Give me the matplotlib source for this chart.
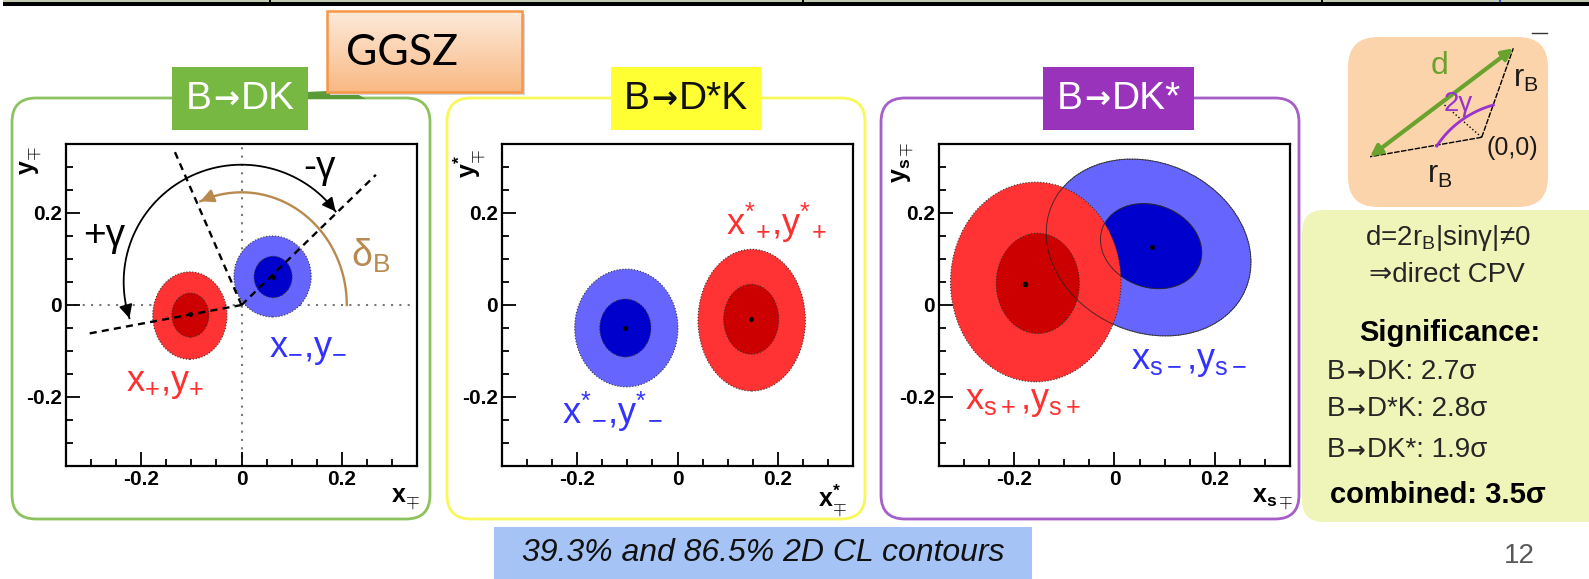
import numpy as np
import matplotlib
matplotlib.use("Agg")
import matplotlib.pyplot as plt
from matplotlib.patches import Ellipse, FancyBboxPatch, Rectangle, Polygon
from matplotlib.ticker import MultipleLocator, FixedLocator
from matplotlib.offsetbox import TextArea, HPacker, AnnotationBbox

plt.rcParams['font.family'] = ['Liberation Sans', 'DejaVu Sans']
plt.rcParams['mathtext.fontset'] = 'custom'
plt.rcParams['mathtext.rm'] = 'Liberation Sans'
plt.rcParams['mathtext.it'] = 'Liberation Sans:italic'
plt.rcParams['mathtext.bf'] = 'Liberation Sans:bold'
plt.rcParams['mathtext.sf'] = 'Liberation Sans'
plt.rcParams['axes.unicode_minus'] = False

# ---------------- data ----------------
panel_titles = ["B→DK", "B→D*K", "B→DK*"]
tick_values = [-0.2, 0.0, 0.2]
tick_labels = ["-0.2", "0", "0.2"]
axis_range = [-0.35, 0.35]

# best-fit points (x, y)
dk_plus_best = (-0.102, -0.020)
dk_minus_best = (0.062, 0.061)
dstk_plus_best = (0.147, -0.031)
dstk_minus_best = (-0.104, -0.050)
dks_plus_best = (-0.179, 0.045)
dks_minus_best = (0.075, 0.127)

# contours: (cx, cy, half-width, half-height, angle) for 86.5% and 39.3% CL
dk_plus_865 = (-0.103, -0.023, 0.074, 0.095, 0)
dk_plus_393 = (-0.102, -0.022, 0.037, 0.048, 0)
dk_minus_865 = (0.062, 0.062, 0.077, 0.088, 0)
dk_minus_393 = (0.063, 0.061, 0.038, 0.045, 0)
dstk_plus_865 = (0.148, -0.033, 0.107, 0.154, 0)
dstk_plus_393 = (0.147, -0.031, 0.055, 0.076, 0)
dstk_minus_865 = (-0.102, -0.050, 0.103, 0.128, 0)
dstk_minus_393 = (-0.104, -0.050, 0.051, 0.063, 0)
dks_plus_865 = (-0.157, 0.050, 0.170, 0.217, 0)
dks_plus_393 = (-0.153, 0.047, 0.083, 0.109, 0)
dks_minus_865 = (0.068, 0.125, 0.215, 0.180, -35)
dks_minus_393 = (0.073, 0.128, 0.105, 0.088, -30)

# B->DK geometry sketch: ends of the dashed rays from origin
ray_delta = (-0.133, 0.333)
ray_minus = (0.268, 0.283)
ray_plus = (-0.309, -0.063)
# elliptical arcs: (cx, cy, a, b, t_start, t_end) in degrees
gamma_arc = (0.0, 0.05, 0.235, 0.255, 37, 198)
delta_arc = (0.0, 0.0, 0.21, 0.245, 0, 113)

# r_B diagram vectors (schematic)
rb_up = (0.316, 0.890)
rb_low = (-1.117, -0.194)

significance_labels = ["B→DK: 2.7σ", "B→D*K: 2.8σ", "B→DK*: 1.9σ"]
combined_label = "combined: 3.5σ"

# ---------------- figure ----------------
W, H = 1589, 579
fig = plt.figure(figsize=(W / 100, H / 100), dpi=100)
bg = fig.add_axes([0, 0, 1, 1])
bg.set_zorder(0)
bg.axis('off')


def frect(x0, y0, x1, y1):
    return [x0 / W, 1 - y1 / H, (x1 - x0) / W, (y1 - y0) / H]


def arrow_text(x, y, s, fs, color, weight='normal', align=(0.5, 0.5), zorder=4):
    parts = s.split('→')
    children = []
    for k, p in enumerate(parts):
        if k > 0:
            children.append(TextArea('→', textprops=dict(fontsize=fs * 0.8, color=color,
                                                          family='DejaVu Sans', fontweight='bold')))
        children.append(TextArea(p, textprops=dict(fontsize=fs, color=color, fontweight=weight)))
    pk = HPacker(children=children, pad=0, sep=1, align='baseline')
    ab = AnnotationBbox(pk, (x, y), xycoords='data', frameon=False, box_alignment=align,
                        pad=0, zorder=zorder, annotation_clip=False)
    bg.add_artist(ab)


# top table border
bg.add_patch(Rectangle((3, 0), 1590, 1.6, fc='#c3cab2', ec='none'))
bg.add_patch(Rectangle((3, 1.6), 1590, 4.2, fc='black', ec='none'))
for xd in (270, 803, 1322):
    bg.add_patch(Rectangle((xd - 1, 0), 2.2, 6, fc='black', ec='none'))
bg.add_patch(Rectangle((1499, 0), 2, 2, fc='#3355dd', ec='none'))

RED_OUT, RED_IN = '#ff3333', '#cc0000'
BLUE_OUT, BLUE_IN = '#6666ff', '#0000cc'
RED_TXT, BLUE_TXT = '#ff3030', '#3333ff'

panel_left = [12, 447, 881]
panel_color = ['#8cc35e', '#f8f85a', '#a65ec8']
title_box = [(172, 308, '#77b843', 'white'), (611, 761, '#ffff33', '#111111'),
             (1043, 1194, '#9933bb', 'white')]
axes_left = [66, 502, 939]

for i in range(3):
    x0 = panel_left[i]
    bg.add_patch(FancyBboxPatch((x0, 98), 418, 421, boxstyle='round,pad=0,rounding_size=24',
                                fc='white', ec=panel_color[i], lw=2.0, zorder=1))
for i in range(3):
    tx0, tx1, tc, ttc = title_box[i]
    bg.add_patch(Rectangle((tx0, 67), tx1 - tx0, 63, fc=tc, ec='none', zorder=3))
    arrow_text((tx0 + tx1) / 2, 99, panel_titles[i], 28, ttc, zorder=4)

# green tab partly hidden behind GGSZ box
bg.add_patch(Polygon([(306, 99), (306, 92), (350, 90), (366, 99)], closed=True,
                     fc='#5a9a38', ec='none', zorder=2))

# GGSZ box with gradient
gx0, gx1, gy0, gy1 = 327, 522, 11, 92
bg.add_patch(Rectangle((gx0 + 3, gy0 + 3), gx1 - gx0, gy1 - gy0, fc='#d5d5d5', ec='none', zorder=4))
grad = np.linspace(0, 1, 64)[:, None, None]
c_top = np.array([253, 234, 218]) / 255
c_bot = np.array([249, 185, 132]) / 255
img = c_top * (1 - grad) + c_bot * grad
bg.imshow(img, extent=(gx0, gx1, gy1, gy0), origin='upper', aspect='auto', zorder=5)
bg.add_patch(Rectangle((gx0, gy0), gx1 - gx0, gy1 - gy0, fc='none', ec='#f79646', lw=1.8, zorder=6))
bg.text(346, 53, "GGSZ", fontsize=31, family=['Lato', 'DejaVu Sans'], color='black',
        ha='left', va='center', zorder=7)

# axis labels
ylabels = [r"$\mathbf{y}_{\mathbf{\mp}}$", r"$\mathbf{y}^{\mathbf{*}}_{\mathbf{\mp}}$",
           r"$\mathbf{y}_{\mathbf{s\mp}}$"]
xlabels = [r"$\mathbf{x}_{\mathbf{\mp}}$", r"$\mathbf{x}^{\mathbf{*}}_{\mathbf{\mp}}$",
           r"$\mathbf{x}_{\mathbf{s\mp}}$"]
ylab_pos = [(32, 161), (470, 164), (904, 162)]
xlab_pos = [(405, 500), (832, 501), (1273, 500)]
for i in range(3):
    bg.text(*ylab_pos[i], ylabels[i], fontsize=18, rotation=90, ha='center', va='center', zorder=4)
    bg.text(*xlab_pos[i], xlabels[i], fontsize=18, ha='center', va='center', zorder=4)

# ---------------- plot axes ----------------
axes = []
for i in range(3):
    ax = fig.add_axes(frect(axes_left[i], 144, axes_left[i] + 351, 466))
    ax.set_zorder(2)
    ax.set_xlim(axis_range)
    ax.set_ylim(axis_range)
    ax.xaxis.set_major_locator(FixedLocator(tick_values))
    ax.yaxis.set_major_locator(FixedLocator(tick_values))
    ax.set_xticklabels(tick_labels)
    ax.set_yticklabels(tick_labels)
    ax.xaxis.set_minor_locator(MultipleLocator(0.05))
    ax.yaxis.set_minor_locator(MultipleLocator(0.05))
    ax.tick_params(which='both', direction='in', top=False, right=False, width=1.3, labelsize=15)
    ax.tick_params(which='major', length=10, pad=3)
    ax.tick_params(which='minor', length=5)
    for lab in ax.get_xticklabels() + ax.get_yticklabels():
        lab.set_fontweight('bold')
    for s in ax.spines.values():
        s.set_linewidth(1.6)
    axes.append(ax)


def add_ell(ax, e, fc, z, ec='none', lw=0.0, ls='-', alpha=1.0):
    cx, cy, hw, hh, ang = e
    ax.add_patch(Ellipse((cx, cy), 2 * hw, 2 * hh, angle=ang, fc=fc, ec=ec, lw=lw, ls=ls,
                         zorder=z, alpha=alpha))


def contours(ax, outer, inner, c_out, c_in, z, edge_ls=':'):
    add_ell(ax, outer, c_out, z)
    add_ell(ax, inner, c_in, z + 0.2)
    add_ell(ax, outer, 'none', z + 0.3, ec='#333333', lw=0.8, ls=edge_ls)
    add_ell(ax, inner, 'none', z + 0.3, ec='#333333', lw=0.8, ls=edge_ls)


# Panel 1: B->DK
ax = axes[0]
ax.axhline(0, color='#777777', lw=1.5, ls=(0, (1, 3)), zorder=1)
ax.axvline(0, color='#777777', lw=1.5, ls=(0, (1, 3)), zorder=1)
contours(ax, dk_plus_865, dk_plus_393, RED_OUT, RED_IN, 2)
contours(ax, dk_minus_865, dk_minus_393, BLUE_OUT, BLUE_IN, 2)
for end in (ray_delta, ray_minus, ray_plus):
    ax.plot([0, end[0]], [0, end[1]], color='black', lw=1.7, dashes=(3, 2.2), zorder=5)
for (cx, cy, a, b, t0, t1), col, lw, both in ((gamma_arc, 'black', 1.3, True),
                                              (delta_arc, '#b98a4f', 1.7, False)):
    t = np.radians(np.linspace(t0, t1, 200))
    xs, ys = cx + a * np.cos(t), cy + b * np.sin(t)
    ax.plot(xs, ys, color=col, lw=lw, zorder=6)
    ax.annotate('', xy=(xs[-1], ys[-1]), xytext=(xs[-6], ys[-6]),
                arrowprops=dict(arrowstyle='-|>', color=col, lw=lw, mutation_scale=20,
                                shrinkA=0, shrinkB=0), zorder=6)
    if both:
        ax.annotate('', xy=(xs[0], ys[0]), xytext=(xs[5], ys[5]),
                    arrowprops=dict(arrowstyle='-|>', color=col, lw=lw, mutation_scale=20,
                                    shrinkA=0, shrinkB=0), zorder=6)
ax.plot(*dk_plus_best, 'o', color='black', ms=2.5, zorder=7)
ax.plot(*dk_minus_best, 'o', color='black', ms=2.5, zorder=7)
ax.text(0.156, 0.297, "-γ", fontsize=28, color='black', ha='center', va='center', zorder=8)
ax.text(-0.274, 0.150, "+γ", fontsize=28, color='black', ha='center', va='center', zorder=8)
ax.text(0.258, 0.107, r"δ$_\mathregular{B}$", fontsize=27, color='#b98a4f', ha='center', va='center', zorder=8)
ax.text(0.132, -0.097, r"$\mathregular{x_{-}{,}y_{-}}$", fontsize=26, color=BLUE_TXT, ha='center', va='center', zorder=8)
ax.text(-0.152, -0.170, r"$\mathregular{x_{+}{,}y_{+}}$", fontsize=26, color=RED_TXT, ha='center', va='center', zorder=8)

# Panel 2: B->D*K
ax = axes[1]
contours(ax, dstk_minus_865, dstk_minus_393, BLUE_OUT, BLUE_IN, 2)
contours(ax, dstk_plus_865, dstk_plus_393, RED_OUT, RED_IN, 2)
ax.plot(*dstk_plus_best, 'o', color='black', ms=2.5, zorder=7)
ax.plot(*dstk_minus_best, 'o', color='black', ms=2.5, zorder=7)
ax.text(0.197, 0.178, r"$\mathregular{x^{*}{}_{+}{,}y^{*}{}_{+}}$", fontsize=26, color=RED_TXT, ha='center', va='center')
ax.text(-0.130, -0.233, r"$\mathregular{x^{*}{}_{-}{,}y^{*}{}_{-}}$", fontsize=26, color=BLUE_TXT, ha='center', va='center')

# Panel 3: B->DK*
ax = axes[2]
add_ell(ax, dks_minus_865, BLUE_OUT, 2)
add_ell(ax, dks_minus_393, BLUE_IN, 2.2)
add_ell(ax, dks_minus_865, 'none', 2.3, ec='#333333', lw=0.7, ls=':')
add_ell(ax, dks_minus_393, 'none', 2.3, ec='#333333', lw=0.7, ls=':')
contours(ax, dks_plus_865, dks_plus_393, RED_OUT, RED_IN, 3)
add_ell(ax, dks_minus_865, 'none', 4, ec='#222222', lw=0.7, alpha=0.8)
add_ell(ax, dks_minus_393, 'none', 4, ec='#222222', lw=0.7, alpha=0.8)
ax.plot(*dks_plus_best, 'o', color='black', ms=3, zorder=7)
ax.plot(*dks_minus_best, 'o', color='black', ms=2.5, zorder=7)
ax.text(-0.183, -0.210, r"$\mathregular{x_{s+}{,}y_{s+}}$", fontsize=26, color=RED_TXT, ha='center', va='center')
ax.text(0.148, -0.123, r"$\mathregular{x_{s-}{,}y_{s-}}$", fontsize=26, color=BLUE_TXT, ha='center', va='center')

# ---------------- right side ----------------
bg.add_patch(FancyBboxPatch((1348, 37), 200, 170, boxstyle='round,pad=0,rounding_size=30',
                            fc='#fcd4ab', ec='none', zorder=1))
bg.add_patch(FancyBboxPatch((1302, 210), 330, 312, boxstyle='round,pad=0,rounding_size=22',
                            fc='#eff4b8', ec='none', zorder=1))
bg.plot([1532, 1547], [33, 33], color='#333333', lw=1)

axd = fig.add_axes(frect(1348, 37, 1548, 207))
axd.set_zorder(3)
axd.axis('off')
axd.set_xlim(-1.337, 0.663)
axd.set_ylim(-0.697, 1.003)
axd.plot([0, rb_up[0]], [0, rb_up[1]], color='black', lw=1.0, ls=(0, (4, 1)))
axd.plot([0, rb_low[0]], [0, rb_low[1]], color='black', lw=1.0, ls=(0, (4, 1)))
mid = ((rb_up[0] + rb_low[0]) / 2, (rb_up[1] + rb_low[1]) / 2)
axd.plot([0, mid[0]], [0, mid[1]], color='black', lw=1.0, ls=':')
axd.annotate('', xy=rb_up, xytext=rb_low,
             arrowprops=dict(arrowstyle='<|-|>', color='#6aa22e', lw=3, mutation_scale=16,
                             shrinkA=0, shrinkB=0))
ta = np.radians(np.linspace(146.5, 105.3, 60))
axd.plot(0.379 + 0.994 * np.cos(ta), -0.636 + 0.994 * np.sin(ta), color='#9933cc', lw=2)
axd.text(-0.417, 0.713, "d", fontsize=23, color='#6aa22e', ha='center', va='center')
axd.text(-0.237, 0.333, "2γ", fontsize=20, color='#9933cc', ha='center', va='center')
axd.text(0.443, 0.583, r"r$_\mathregular{B}$", fontsize=22, color='#1a1a1a', ha='center', va='center')
axd.text(-0.417, -0.377, r"r$_\mathregular{B}$", fontsize=22, color='#1a1a1a', ha='center', va='center')
axd.text(0.303, -0.107, "(0,0)", fontsize=18, color='#1a1a1a', ha='center', va='center')

TXT = '#262626'
bg.text(1448, 238, r"d=2r$_\mathregular{B}$|sinγ|≠0", fontsize=20, color=TXT, ha='center', va='center', zorder=3)
bg.text(1447, 275, "⇒direct CPV", fontsize=20, color=TXT, ha='center', va='center', zorder=3)
bg.text(1450, 333, "Significance:", fontsize=21, fontweight='bold', color='black', ha='center', va='center', zorder=3)
for yy, s in zip((372, 409, 450), significance_labels):
    arrow_text(1327, yy, s, 20, TXT, align=(0, 0.5), zorder=3)
bg.text(1330, 495, combined_label, fontsize=21, fontweight='bold', color='black', ha='left', va='center', zorder=3)

bg.text(1519, 556, "12", fontsize=20, color='#595959', ha='center', va='center')

bg.add_patch(Rectangle((494, 527), 538, 60, fc='#a6c3f5', ec='none', zorder=1))
bg.text(763, 553, "39.3% and 86.5% 2D CL contours", fontsize=23, style='italic', color='#111111',
        ha='center', va='center', zorder=3)

bg.set_xlim(0, W)
bg.set_ylim(H, 0)

fig.savefig("out.png", dpi=100)
